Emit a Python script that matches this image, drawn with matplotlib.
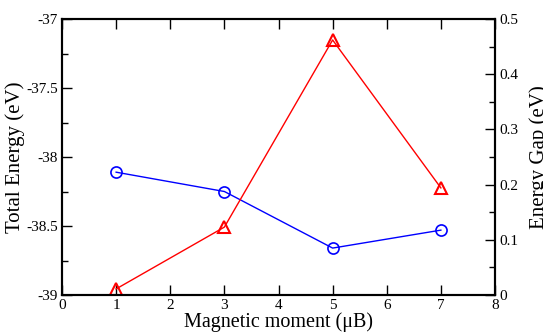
import matplotlib
matplotlib.use("Agg")
import matplotlib.pyplot as plt
from matplotlib.ticker import MultipleLocator

plt.rcParams['font.family'] = ['Liberation Serif', 'DejaVu Serif']

moment = [1, 3, 5, 7]
total_energy = [-38.11, -38.25, -38.66, -38.53]
energy_gap = [0.011, 0.123, 0.462, 0.194]

fig = plt.figure(figsize=(5.43, 3.33), dpi=100)
ax = fig.add_axes([62/543, 38/333, 433/543, 276/333])
ax2 = ax.twinx()

ax.plot(moment, total_energy, color='blue', lw=1, marker='o', ms=8,
        mfc='none', mec='blue', mew=1.2)
ax2.plot(moment, energy_gap, color='red', lw=1, marker='^', ms=8,
         mfc='none', mec='red', mew=1.5)

ax.set_xlim(0, 8)
ax.set_ylim(-39, -37)
ax2.set_ylim(0, 0.5)
ax.xaxis.set_major_locator(MultipleLocator(1))
ax.yaxis.set_minor_locator(MultipleLocator(0.25))
ax2.yaxis.set_minor_locator(MultipleLocator(0.05))
ax.set_yticks([-39, -38.5, -38, -37.5, -37])
ax.set_yticklabels(['-39', '-38.5', '-38', '-37.5', '-37'])
ax2.set_yticks([0, 0.1, 0.2, 0.3, 0.4, 0.5])
ax2.set_yticklabels(['0', '0.1', '0.2', '0.3', '0.4', '0.5'])

ax.tick_params(axis='x', direction='in', top=True, length=7, width=1, labelsize=11, pad=3)
ax.tick_params(axis='y', which='major', direction='in', length=7, width=1, labelsize=11, pad=3)
ax.tick_params(axis='y', which='minor', direction='in', length=4, width=1)
ax2.tick_params(axis='y', which='major', direction='in', length=7, width=1, labelsize=11, pad=3)
ax2.tick_params(axis='y', which='minor', direction='in', length=4, width=1)
for a in (ax, ax2):
    for s in a.spines.values():
        s.set_linewidth(1.5)

ax.set_xlabel('Magnetic moment (\u03bcB)', fontsize=14.5, labelpad=0)
ax.set_ylabel('Total Energy (eV)', fontsize=15, labelpad=1)
ax2.set_ylabel('Energy Gap (eV)', fontsize=15, labelpad=8)

fig.savefig('out.png', dpi=100)
